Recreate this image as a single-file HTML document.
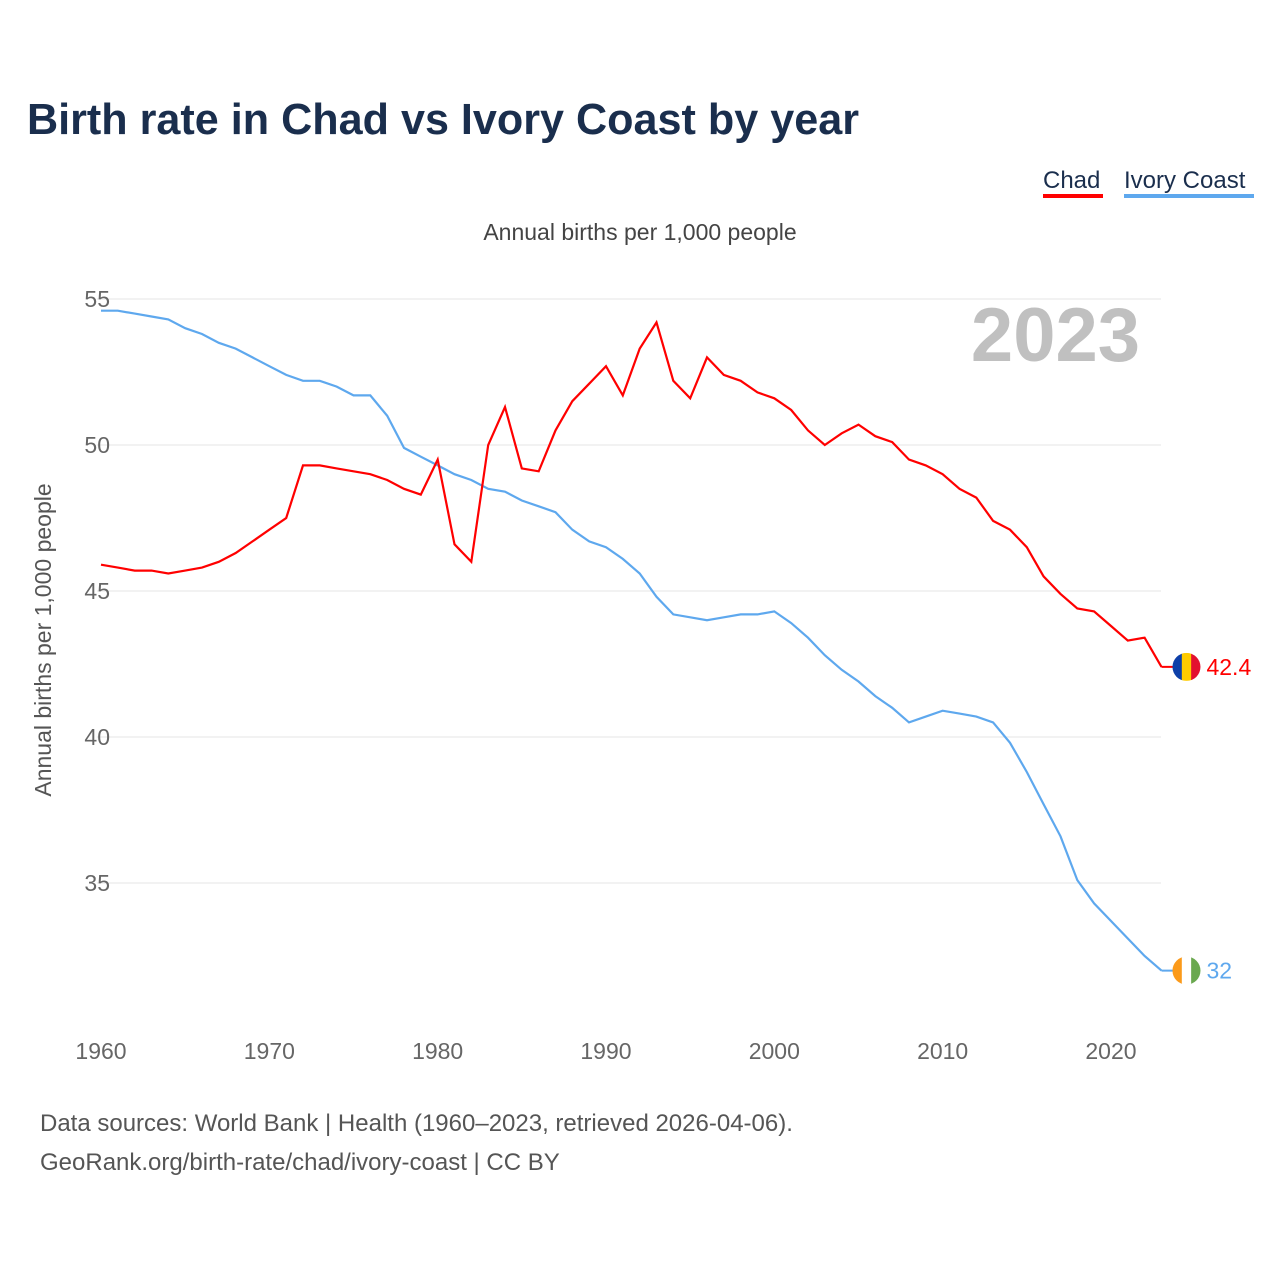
<!DOCTYPE html>
<html><head><meta charset="utf-8"><style>
body{margin:0;background:#fff;width:1280px;height:1280px;overflow:hidden;font-family:"Liberation Sans",sans-serif}
</style></head><body>
<svg width="1280" height="1280" xmlns="http://www.w3.org/2000/svg" font-family="Liberation Sans, sans-serif">
<text x="27" y="134" font-size="44" font-weight="bold" fill="#1a2e4d" textLength="832" lengthAdjust="spacingAndGlyphs">Birth rate in Chad vs Ivory Coast by year</text>
<g><text x="1043" y="188" font-size="24" fill="#1a2e4d">Chad</text><rect x="1043" y="194" width="60" height="4" fill="#f00"/></g>
<g><text x="1124" y="188" font-size="24" fill="#1a2e4d">Ivory Coast</text><rect x="1124" y="194" width="130" height="4" fill="#5ea8ee"/></g>
<text x="640" y="240" font-size="23" fill="#444" text-anchor="middle">Annual births per 1,000 people</text>
<text x="1140" y="361" font-size="76" font-weight="bold" fill="#c0c0c0" text-anchor="end">2023</text>
<text transform="translate(51,640) rotate(-90)" font-size="23" fill="#555" text-anchor="middle">Annual births per 1,000 people</text>
<g id="grid"></g><g id="lines"></g><g id="ends"></g>
<text x="40" y="1131" font-size="24" fill="#555">Data sources: World Bank | Health (1960–2023, retrieved 2026-04-06).</text>
<text x="40" y="1170" font-size="24" fill="#555">GeoRank.org/birth-rate/chad/ivory-coast | CC BY</text>
</svg>
<script>
const years=[];for(let y=1960;y<=2023;y++)years.push(y);
const chad=[45.9,45.8,45.7,45.7,45.6,45.7,45.8,46.0,46.3,46.7,47.1,47.5,49.3,49.3,49.2,49.1,49.0,48.8,48.5,48.3,49.5,46.6,46.0,50.0,51.3,49.2,49.1,50.5,51.5,52.1,52.7,51.7,53.3,54.2,52.2,51.6,53.0,52.4,52.2,51.8,51.6,51.2,50.5,50.0,50.4,50.7,50.3,50.1,49.5,49.3,49.0,48.5,48.2,47.4,47.1,46.5,45.5,44.9,44.4,44.3,43.8,43.3,43.4,42.4];
const ivory=[54.6,54.6,54.5,54.4,54.3,54.0,53.8,53.5,53.3,53.0,52.7,52.4,52.2,52.2,52.0,51.7,51.7,51.0,49.9,49.6,49.3,49.0,48.8,48.5,48.4,48.1,47.9,47.7,47.1,46.7,46.5,46.1,45.6,44.8,44.2,44.1,44.0,44.1,44.2,44.2,44.3,43.9,43.4,42.8,42.3,41.9,41.4,41.0,40.5,40.7,40.9,40.8,40.7,40.5,39.8,38.8,37.7,36.6,35.1,34.3,33.7,33.1,32.5,32.0];
const yTicks=[35,40,45,50,55];
const xTicks=[1960,1970,1980,1990,2000,2010,2020];
const NS="http://www.w3.org/2000/svg";
const X=y=>101+(y-1960)*16.833;
const Y=v=>299+(55-v)*29.2;
function mk(t,a,p){const e=document.createElementNS(NS,t);for(const k in a)e.setAttribute(k,a[k]);document.getElementById(p).appendChild(e);return e;}
yTicks.forEach(v=>{
 const l=mk('line',{x1:97,x2:1161,y1:Y(v),y2:Y(v),stroke:'#e6e6e6','stroke-width':1},'grid');
 
 
 const t=mk('text',{x:110,y:Y(v)+8,'font-size':23,fill:'#666','text-anchor':'end'},'grid');t.textContent=v;
 
 
});
xTicks.forEach(v=>{
 const t=mk('text',{x:X(v),y:1059,'font-size':23,fill:'#666','text-anchor':'middle'},'grid');t.textContent=v;
 
 
});
function series(d,c,n){
 const p=mk('path',{d:d.map((v,i)=>(i?'L':'M')+X(years[i]).toFixed(1)+' '+Y(v).toFixed(1)).join(''),fill:'none',stroke:c,'stroke-width':2.2},'lines');
 
 
}
series(ivory,'#5ea8ee','ivory-coast');series(chad,'#f00','chad');
function end(d,c,n,cols){
 const v=d[d.length-1],y=Y(v),x0=X(2023),cx=x0+25;
 mk('line',{x1:x0,x2:cx,y1:y,y2:y,stroke:c,'stroke-width':2},'ends');
 const g=mk('g',{},'ends');
 
 
 const id='cl'+n;const cp=mk('clipPath',{id:id},'ends');
 const ci=document.createElementNS(NS,'circle');ci.setAttribute('cx',cx);ci.setAttribute('cy',y);ci.setAttribute('r',14);cp.appendChild(ci);
 cols.forEach((col,i)=>{const r=document.createElementNS(NS,'rect');r.setAttribute('x',cx-14+i*28/3);r.setAttribute('y',y-14);r.setAttribute('width',28/3+0.5);r.setAttribute('height',28);r.setAttribute('fill',col);r.setAttribute('clip-path','url(#'+id+')');g.appendChild(r);});
 const t=mk('text',{x:cx+20,y:y+8,'font-size':23,fill:c},'ends');t.textContent=v;
 
 
}
end(chad,'#f00','chad',['#0d3fa8','#fecb00','#e3102f']);
end(ivory,'#5ea8ee','ivory-coast',['#fb9a1a','#ffffff','#6aa84f']);
</script>
</body></html>
